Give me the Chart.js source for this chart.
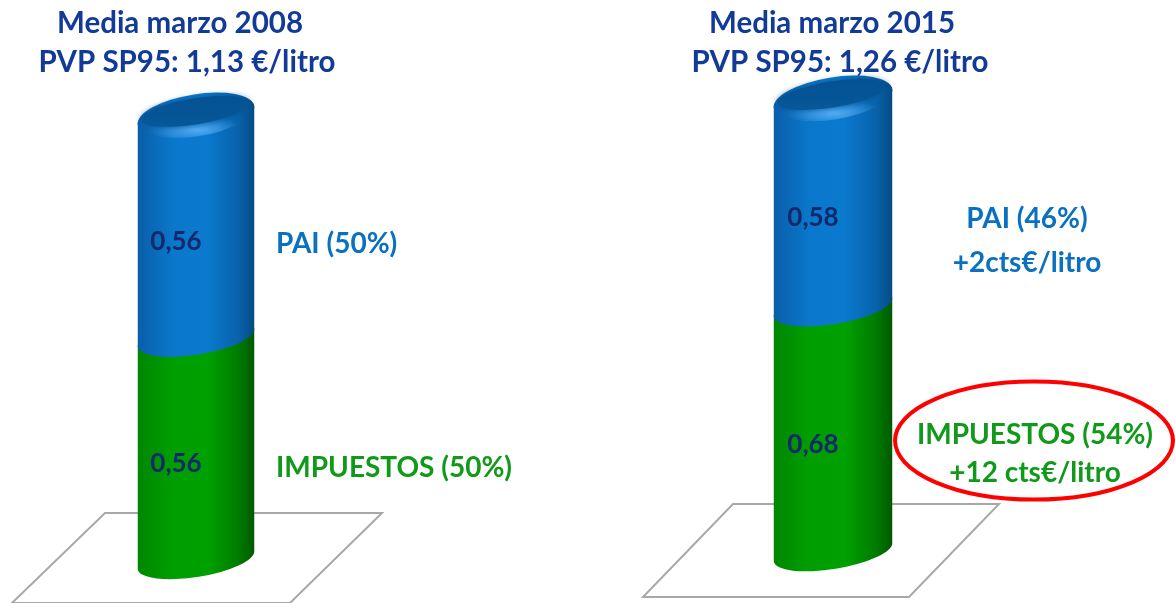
<!DOCTYPE html>
<html>
<head>
<meta charset="utf-8">
<script src="https://cdn.jsdelivr.net/npm/chart.js@4.4.1/dist/chart.umd.min.js"></script>
<style>
  html, body { margin: 0; padding: 0; background: #fff; }
  .panel { position: absolute; top: 0; height: 603px; }
  #p0 { left: 0; width: 590px; }
  #p1 { left: 590px; width: 585px; }
</style>
</head>
<body>
<div class="panel" id="p0"><canvas id="c0"></canvas></div>
<div class="panel" id="p1"><canvas id="c1"></canvas></div>
<script>
// values (€/litro)
const years = ['Media marzo 2008', 'Media marzo 2015'];
const prices = ['PVP SP95: 1,13 €/litro', 'PVP SP95: 1,26 €/litro'];
const impuestos = [0.56, 0.68];
const pai = [0.56, 0.58];
const paiText = [['PAI (50%)'], ['PAI (46%)', '+2cts€/litro']];
const impText = [['IMPUESTOS (50%)'], ['IMPUESTOS (54%)', '+12 cts€/litro']];
const ringed = [false, true];
const yMax = [1.4, 1.5];

const FONT = 'Lato, "Open Sans", sans-serif';
const H = 603;

// per panel layout, in canvas pixels, mostly relative to the bar
const look = [
  {
    base: 560, pxPerUnit: 397, barW: 118, padRight: 198,
    titleDx: [-16, -9],
    floor: { top: -47, bottom: 43, topL: -91, topR: 186, botL: -184, botR: 94 },
    align: 'left', paiDx: 80, impDx: 80,
    paiDy: 26, impDy: 28, paiGap: 44, impGap: 38
  },
  {
    base: 552, pxPerUnit: 360, barW: 120, padRight: 99,
    titleDx: [-1, 7],
    floor: { top: -48, bottom: 45, topL: -100, topR: 166, botL: -190, botR: 76 },
    align: 'center', paiDx: 194, impDx: 202,
    paiDy: 25, impDy: 14, paiGap: 44, impGap: 38,
    ring: { dx: 201, dy: 11, rx: 139, ry: 59 }
  }
];

const RY = 17, CAP_RY = 21, ROT = -0.16;

function side(ctx, x, top, bottom, rx) {
  ctx.beginPath();
  ctx.ellipse(x, top, rx, RY, ROT, Math.PI, 2 * Math.PI);
  ctx.ellipse(x, bottom, rx, RY, ROT, 0, Math.PI);
  ctx.closePath();
}

function bodyFill(ctx, x, w, stops) {
  const g = ctx.createLinearGradient(x - w / 2, 0, x + w / 2, 0);
  stops.forEach(s => g.addColorStop(s[0], s[1]));
  return g;
}

const greenStops = [[0, '#008600'], [0.3, '#009e00'], [0.6, '#00a000'], [0.85, '#007d00'], [1, '#005800']];
const blueStops = [[0, '#0a5ea8'], [0.3, '#0a77cb'], [0.58, '#0a7acf'], [0.86, '#0862ab'], [1, '#054a82']];

function fmt(v) { return v.toFixed(2).replace('.', ','); }

const cyl = {
  id: 'cyl',
  beforeDatasetsDraw(chart, args, opts) {
    const L = look[opts.panel];
    const el = chart.getDatasetMeta(0).data[0];
    const ctx = chart.ctx, f = L.floor, x = el.x, b = el.base;
    ctx.save();
    ctx.strokeStyle = '#a8a8a8';
    ctx.lineWidth = 2;
    ctx.beginPath();
    ctx.moveTo(x + f.topL, b + f.top);
    ctx.lineTo(x + f.topR, b + f.top);
    ctx.lineTo(x + f.botR, b + f.bottom);
    ctx.lineTo(x + f.botL, b + f.bottom);
    ctx.closePath();
    ctx.stroke();
    ctx.restore();
  },
  beforeDatasetDraw() {
    return false; // bars are painted as cylinders below
  },
  afterDatasetsDraw(chart, args, opts) {
    const i = opts.panel, L = look[i];
    const ctx = chart.ctx;
    const g = chart.getDatasetMeta(0).data[0];
    const p = chart.getDatasetMeta(1).data[0];
    const x = g.x, rx = g.width / 2;
    ctx.save();

    // green segment (IMPUESTOS)
    side(ctx, x, g.y, g.base, rx);
    ctx.fillStyle = bodyFill(ctx, x, g.width, greenStops);
    ctx.fill();
    // blue segment (PAI)
    side(ctx, x, p.y, p.base, rx);
    ctx.fillStyle = bodyFill(ctx, x, p.width, blueStops);
    ctx.fill();

    // top cap: lighter bevel rim, darker face
    ctx.beginPath();
    ctx.ellipse(x, p.y, rx, CAP_RY, ROT, 0, 2 * Math.PI);
    ctx.fillStyle = bodyFill(ctx, x, p.width, blueStops);
    ctx.fill();
    ctx.save();
    ctx.clip();
    ctx.translate(x, p.y + CAP_RY - 7);
    ctx.scale(1, 0.3);
    const hg = ctx.createRadialGradient(0, 0, 1, 0, 0, rx * 0.8);
    hg.addColorStop(0, 'rgba(110,190,255,0.75)');
    hg.addColorStop(1, 'rgba(110,190,255,0)');
    ctx.fillStyle = hg;
    ctx.fillRect(-rx, -rx, 2 * rx, 2 * rx);
    ctx.restore();
    ctx.beginPath();
    ctx.ellipse(x - 1, p.y - 4, rx - 5, CAP_RY - 8, ROT, 0, 2 * Math.PI);
    const cg = ctx.createLinearGradient(0, p.y - CAP_RY, 0, p.y + CAP_RY);
    cg.addColorStop(0, '#045191');
    cg.addColorStop(1, '#065a9c');
    ctx.fillStyle = cg;
    ctx.shadowColor = 'rgba(4,80,140,0.9)';
    ctx.shadowBlur = 6;
    ctx.fill();
    ctx.restore();

    ctx.save();
    // values inside the bar
    ctx.font = 'bold 26px ' + FONT;
    ctx.fillStyle = '#13296a';
    ctx.textAlign = 'center';
    ctx.textBaseline = 'alphabetic';
    const pMid = (p.y + p.base) / 2, gMid = (g.y + g.base) / 2;
    ctx.fillText(fmt(pai[i]), x - 20, pMid + 23);
    ctx.fillText(fmt(impuestos[i]), x - 20, gMid + 23);

    // side labels
    ctx.font = 'bold 28px ' + FONT;
    ctx.textAlign = L.align;
    ctx.fillStyle = '#0a70c0';
    paiText[i].forEach((t, k) => ctx.fillText(t, x + L.paiDx, pMid + L.paiDy + k * L.paiGap));
    ctx.fillStyle = '#119a19';
    impText[i].forEach((t, k) => ctx.fillText(t, x + L.impDx, gMid + L.impDy + k * L.impGap));

    if (ringed[i]) {
      const r = L.ring;
      ctx.beginPath();
      ctx.ellipse(x + r.dx, gMid + r.dy, r.rx, r.ry, 0, 0, 2 * Math.PI);
      ctx.strokeStyle = '#ff0000';
      ctx.lineWidth = 4;
      ctx.stroke();
    }

    // panel titles
    ctx.font = 'bold 29.5px ' + FONT;
    ctx.fillStyle = '#123b98';
    ctx.textAlign = 'center';
    ctx.fillText(years[i], x + L.titleDx[0], 33);
    ctx.fillText(prices[i], x + L.titleDx[1], 72);
    ctx.restore();
  }
};

function makeChart(i) {
  const L = look[i];
  new Chart(document.getElementById('c' + i), {
    type: 'bar',
    data: {
      labels: [years[i]],
      datasets: [
        { label: 'IMPUESTOS', data: [impuestos[i]], backgroundColor: '#00a000' },
        { label: 'PAI', data: [pai[i]], backgroundColor: '#0a72c4' }
      ]
    },
    options: {
      responsive: true,
      maintainAspectRatio: false,
      animation: false,
      layout: {
        padding: { left: 0, right: L.padRight, top: L.base - yMax[i] * L.pxPerUnit, bottom: H - L.base }
      },
      datasets: { bar: { barThickness: L.barW } },
      scales: {
        x: { stacked: true, display: false },
        y: { stacked: true, display: false, min: 0, max: yMax[i] }
      },
      plugins: {
        legend: { display: false },
        tooltip: { enabled: false },
        cyl: { panel: i }
      }
    },
    plugins: [cyl]
  });
}

makeChart(0);
makeChart(1);
</script>
</body>
</html>
